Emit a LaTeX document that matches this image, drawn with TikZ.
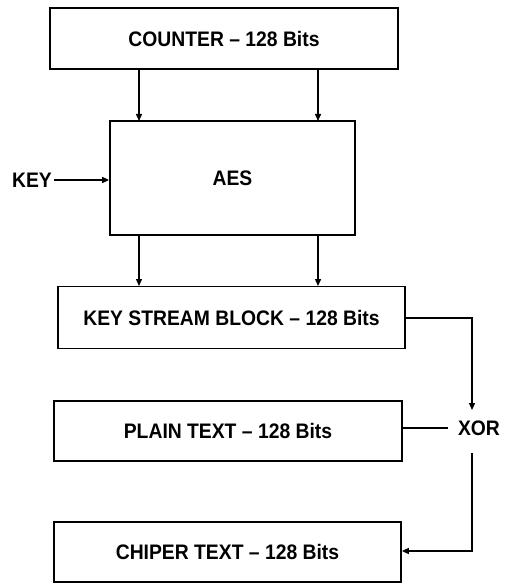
\documentclass[tikz,border=0pt]{standalone}
\usepackage{fontspec}
\setmainfont{Liberation Sans}[FakeStretch=0.92]
\usetikzlibrary{arrows.meta}
\begin{document}
\begin{tikzpicture}[x=1pt,y=-1pt,
  box/.style={draw,line width=1.7pt,inner sep=0pt},
  lbl/.style={font=\fontsize{21}{24}\selectfont\bfseries},
  conn/.style={line width=1.4pt,-{Triangle[length=7pt,width=6pt]}},
  plainline/.style={line width=1.4pt}]
\useasboundingbox (0,0) rectangle (507,583);
\node[box,minimum width=348pt,minimum height=61pt] (counter) at (224,38.5) {};
\node[lbl] at (counter.center) {COUNTER – 128 Bits};
\node[box,minimum width=245pt,minimum height=114pt] (aes) at (232.5,178) {};
\node[lbl] at (aes.center) {AES};
\node[box,minimum width=347pt,minimum height=62pt] (ksb) at (231.5,317.5) {};
\node[lbl] at (ksb.center) {KEY STREAM BLOCK – 128 Bits};
\node[box,minimum width=348pt,minimum height=60pt] (plain) at (228,431) {};
\node[lbl] at (plain.center) {PLAIN TEXT – 128 Bits};
\node[box,minimum width=347pt,minimum height=60pt] (cipher) at (227.5,552) {};
\node[lbl] at (cipher.center) {CHIPER TEXT – 128 Bits};
\node[lbl,anchor=east,inner sep=0pt] (key) at (52,180) {KEY};
\node[lbl,inner sep=0pt] (xor) at (479,428) {XOR};
% counter -> aes
\draw[conn] (139,69) -- (139,121);
\draw[conn] (318,69) -- (318,121);
% aes -> ksb
\draw[conn] (139,235) -- (139,286);
\draw[conn] (318,235) -- (318,286);
% key -> aes
\draw[conn] (key.east) ++(2,0) -- (aes.west |- key.east);
% ksb -> xor
\coordinate (k1) at (472,318);
\coordinate (xtop) at (472,410);
\draw[conn] (ksb.east |- k1) -- (k1) -- (xtop);
% plain -> xor
\draw[plainline] (plain.east |- 0,428) -- (448,428);
% xor -> cipher
\coordinate (xb) at (472,453);
\coordinate (c1) at (472,551);
\draw[conn] (xb) -- (c1) -- (cipher.east |- c1);
\end{tikzpicture}
\end{document}
